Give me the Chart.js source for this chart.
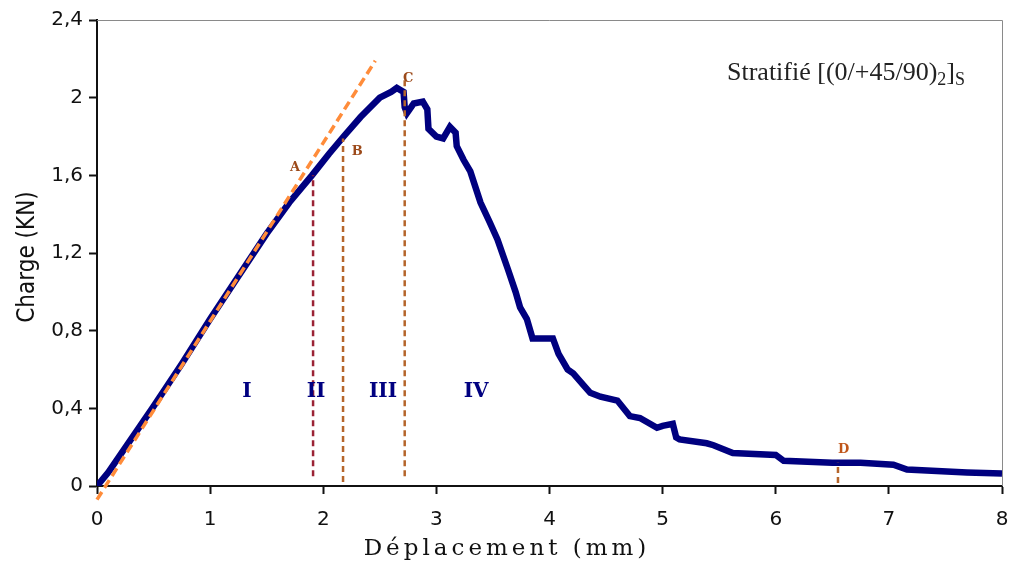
<!doctype html>
<html lang="fr">
<head>
<meta charset="utf-8">
<title>Charge - Déplacement</title>
<script src="https://cdn.jsdelivr.net/npm/chart.js@4.4.1/dist/chart.umd.min.js"></script>
<style>
  body { margin: 0; background: #fff; }
  #wrap { width: 1010px; height: 563px; position: relative; }
</style>
</head>
<body>
<div id="wrap"><canvas id="myChart"></canvas></div>
<script>
// courbe charge / deplacement
var depl = [0, 0.1, 0.3, 0.5, 0.75, 1.0, 1.25, 1.5, 1.7, 1.9, 2.05, 2.18, 2.33, 2.5, 2.6, 2.65, 2.71, 2.72, 2.74, 2.8, 2.88, 2.92, 2.93, 3.0, 3.06, 3.12, 3.17, 3.18, 3.24, 3.3, 3.39, 3.47, 3.54, 3.63, 3.7, 3.74, 3.8, 3.85, 3.9, 4.03, 4.08, 4.16, 4.21, 4.3, 4.36, 4.45, 4.6, 4.71, 4.8, 4.95, 5.0, 5.09, 5.12, 5.15, 5.39, 5.45, 5.62, 6.0, 6.07, 6.5, 6.75, 7.04, 7.16, 7.69, 8.0];
var charge = [0, 0.07, 0.24, 0.41, 0.63, 0.86, 1.08, 1.30, 1.46, 1.60, 1.71, 1.80, 1.90, 2.00, 2.03, 2.05, 2.03, 1.95, 1.92, 1.97, 1.98, 1.94, 1.84, 1.80, 1.79, 1.85, 1.82, 1.75, 1.68, 1.62, 1.46, 1.36, 1.27, 1.12, 1.00, 0.92, 0.86, 0.76, 0.76, 0.76, 0.68, 0.60, 0.58, 0.52, 0.48, 0.46, 0.44, 0.36, 0.35, 0.30, 0.31, 0.32, 0.25, 0.24, 0.22, 0.21, 0.17, 0.16, 0.13, 0.12, 0.12, 0.11, 0.085, 0.07, 0.065];

// tangente (pente initiale)
var tangX = [0, 2.46];
var tangY = [-0.07, 2.19];

// points A B C D
var markNames = ['A', 'B', 'C', 'D'];
var markX = [1.91, 2.175, 2.72, 6.55];
var markTop = [1.60, 1.79, 2.09, 0.12];
var markBottom = [0.05, 0.02, 0.05, 0.015];
var labelX = [1.75, 2.30, 2.75, 6.60];
var labelY = [1.64, 1.72, 2.10, 0.186];

// zones
var zones = ['I', 'II', 'III', 'IV'];
var zoneX = [1.326, 1.936, 2.528, 3.351];
var zoneY = 0.485;

var xTicks = [0, 1, 2, 3, 4, 5, 6, 7, 8];
var yTicks = [0, 0.4, 0.8, 1.2, 1.6, 2, 2.4];

function pts(xs, ys) {
  var out = [];
  for (var i = 0; i < xs.length; i++) out.push({x: xs[i], y: ys[i]});
  return out;
}

// chart.js dessine le dataset 0 en dernier (au dessus)
var lineColors = ['#9b2335', '#b5652b', '#b5652b', '#b5652b'];
var datasets = [];
for (var i = 0; i < markX.length; i++) {
  datasets.push({
    data: pts([markX[i], markX[i]], [markBottom[i], markTop[i]]),
    borderColor: lineColors[i],
    borderWidth: 2.5,
    borderDash: [6, 4],
    pointRadius: 0
  });
}
datasets.push({
  data: pts(tangX, tangY),
  borderColor: '#ff8c3a',
  borderWidth: 3.5,
  borderDash: [9, 5],
  pointRadius: 0,
  clip: false
});
datasets.push({
  data: pts(depl, charge),
  borderColor: '#00007f',
  borderWidth: 6.5,
  pointRadius: 0,
  tension: 0
});

var decor = {
  id: 'decor',
  afterDraw: function(chart) {
    var ctx = chart.ctx, a = chart.chartArea;
    var xs = chart.scales.x, ys = chart.scales.y;
    ctx.save();
    // cadre gris
    ctx.strokeStyle = '#8a8a8a';
    ctx.lineWidth = 1;
    ctx.beginPath();
    ctx.moveTo(a.left, a.top + 0.5);
    ctx.lineTo(a.right + 0.5, a.top + 0.5);
    ctx.lineTo(a.right + 0.5, a.bottom);
    ctx.stroke();

    // lettres
    ctx.textAlign = 'center';
    ctx.textBaseline = 'middle';
    ctx.font = 'bold 13px "DejaVu Serif"';
    for (var i = 0; i < markNames.length; i++) {
      ctx.fillStyle = i == 3 ? '#c0561a' : '#9c4a1a';
      ctx.fillText(markNames[i], xs.getPixelForValue(labelX[i]), ys.getPixelForValue(labelY[i]));
    }
    // zones
    ctx.font = 'bold 20px "DejaVu Serif"';
    ctx.fillStyle = '#000080';
    for (var j = 0; j < zones.length; j++) {
      ctx.fillText(zones[j], xs.getPixelForValue(zoneX[j]), ys.getPixelForValue(zoneY));
    }

    // titres des axes
    ctx.fillStyle = '#111';
    ctx.font = '23px "DejaVu Serif"';
    ctx.letterSpacing = '4px';
    ctx.fillText('Déplacement (mm)', 507, 549);
    ctx.letterSpacing = '0px';
    ctx.save();
    ctx.translate(28, (a.top + a.bottom) / 2 + 4);
    ctx.rotate(-Math.PI / 2);
    ctx.font = '24px "DejaVu Sans Condensed", "Liberation Sans Narrow", sans-serif';
    ctx.fillText('Charge (KN)', 0, 0);
    ctx.restore();

    // legende
    ctx.textAlign = 'left';
    ctx.textBaseline = 'alphabetic';
    ctx.fillStyle = '#222';
    var x = 727, y = 80;
    var parts = [['Stratifié [(0/+45/90)', 26, 0], ['2', 18, 5], [']', 26, 0], ['S', 18, 5]];
    for (var k = 0; k < parts.length; k++) {
      ctx.font = parts[k][1] + 'px "Liberation Serif"';
      ctx.fillText(parts[k][0], x, y + parts[k][2]);
      x += ctx.measureText(parts[k][0]).width;
    }
    ctx.restore();
  }
};

var fmt = function(v) { return String(Number(v.toFixed(1))).replace('.', ','); };

new Chart(document.getElementById('myChart'), {
  type: 'line',
  data: { datasets: datasets },
  options: {
    responsive: true,
    maintainAspectRatio: false,
    animation: false,
    layout: { autoPadding: false, padding: { top: 20, right: 8, left: 0, bottom: 0 } },
    plugins: { legend: { display: false }, tooltip: { enabled: false } },
    scales: {
      x: {
        type: 'linear', min: 0, max: 8,
        afterFit: function(s) { s.height = 77; s.paddingLeft = 0; s.paddingRight = 0; },
        afterBuildTicks: function(s) { s.ticks = xTicks.map(function(v) { return {value: v}; }); },
        ticks: { callback: fmt, color: '#111', padding: 14, maxRotation: 0, font: { family: 'DejaVu Sans', size: 20 } },
        grid: { drawOnChartArea: false, tickLength: 8, tickColor: '#111', tickWidth: 2 },
        border: { color: '#111', width: 2 }
      },
      y: {
        min: 0, max: 2.4,
        afterFit: function(s) { s.width = 97; s.paddingTop = 0; s.paddingBottom = 0; },
        afterBuildTicks: function(s) { s.ticks = yTicks.map(function(v) { return {value: v}; }); },
        ticks: { callback: fmt, color: '#111', padding: 6, font: { family: 'DejaVu Sans', size: 20 } },
        grid: { drawOnChartArea: false, tickLength: 8, tickColor: '#111', tickWidth: 2 },
        border: { color: '#111', width: 2 }
      }
    }
  },
  plugins: [decor]
});
</script>
</body>
</html>
